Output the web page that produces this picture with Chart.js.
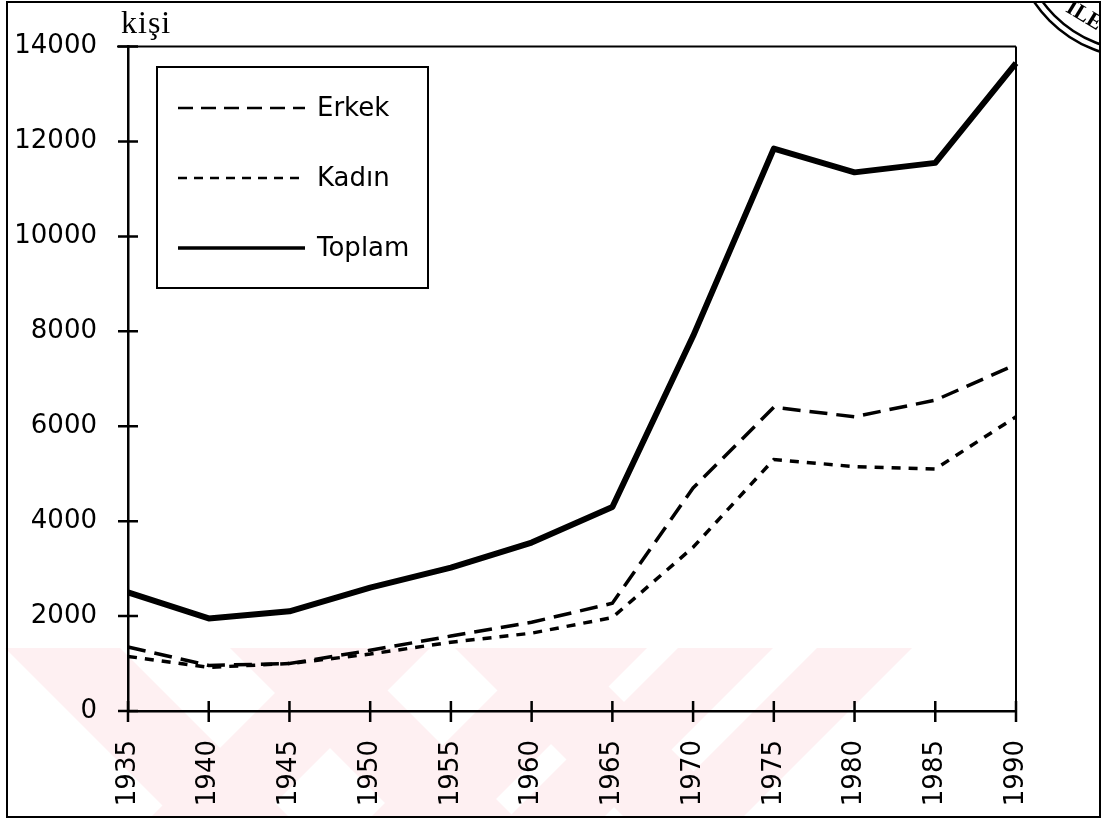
<!DOCTYPE html>
<html><head><meta charset="utf-8">
<script src="https://cdn.jsdelivr.net/npm/chart.js@4/dist/chart.umd.min.js"></script>
<style>html,body{margin:0;padding:0;background:#fff;} canvas{display:block;}</style>
</head><body>
<canvas id="c" width="1102" height="821"></canvas>
<script>
const years = ['1935','1940','1945','1950','1955','1960','1965','1970','1975','1980','1985','1990'];
const erkek  = [1350, 960, 1000, 1280, 1580, 1870, 2270, 4700, 6400, 6200, 6550, 7300];
const kadin  = [1150, 920, 1000, 1200, 1450, 1640, 1970, 3450, 5300, 5150, 5100, 6200];
const toplam = [2500, 1950, 2100, 2600, 3020, 3550, 4300, 7900, 11850, 11350, 11550, 13650];
const yMin = 0, yMax = 14000, yStep = 2000;
const seriesNames = ['Erkek', 'Kadın', 'Toplam'];
const yUnit = 'kişi';

const decor = {
  id: 'decor',
  beforeDraw(chart) {
    const ctx = chart.ctx;
    ctx.save();
    ctx.fillStyle = '#fff';
    ctx.fillRect(0, 0, chart.width, chart.height);
    // faint watermark stripes
    ctx.beginPath();
    ctx.rect(0, 648, 945, 170);
    ctx.clip();
    ctx.fillStyle = '#fef0f2';
    const h = 173;
    [[5,120],[230,345],[455,570]].forEach(([a,b]) => {
      ctx.beginPath();
      ctx.moveTo(a,648); ctx.lineTo(b,648); ctx.lineTo(b+h,648+h); ctx.lineTo(a+h,648+h); ctx.closePath(); ctx.fill();
    });
    [[540,647],[678,773],[817,912],[320,430]].forEach(([a,b]) => {
      ctx.beginPath();
      ctx.moveTo(a,648); ctx.lineTo(b,648); ctx.lineTo(b-h,648+h); ctx.lineTo(a-h,648+h); ctx.closePath(); ctx.fill();
    });
    ctx.restore();
  },
  afterDraw(chart) {
    const ctx = chart.ctx;
    const xs = chart.scales.x, ys = chart.scales.y;
    const a = chart.chartArea;
    ctx.save();
    ctx.strokeStyle = '#000';
    ctx.fillStyle = '#000';
    ctx.lineWidth = 2;
    // outer frame
    ctx.strokeRect(7, 2, 1093, 815);
    // plot top and right borders
    ctx.beginPath();
    ctx.moveTo(a.left - 11, a.top); ctx.lineTo(a.right, a.top);
    ctx.moveTo(a.right, a.top); ctx.lineTo(a.right, a.bottom + 11);
    ctx.stroke();
    // crossing tick marks
    ctx.lineWidth = 2.5;
    ctx.beginPath();
    ys.ticks.forEach(t => {
      const py = ys.getPixelForValue(t.value);
      ctx.moveTo(a.left - 10, py); ctx.lineTo(a.left + 10, py);
    });
    xs.ticks.forEach((t, i) => {
      const px = xs.getPixelForValue(i);
      ctx.moveTo(px, a.bottom - 10); ctx.lineTo(px, a.bottom + 11);
    });
    ctx.stroke();
    // unit label
    ctx.font = '32px "Liberation Serif"';
    ctx.textAlign = 'left';
    ctx.textBaseline = 'alphabetic';
    if ('letterSpacing' in ctx) ctx.letterSpacing = '1px';
    ctx.fillText(yUnit, 121, 33);
    if ('letterSpacing' in ctx) ctx.letterSpacing = '0px';
    // legend box
    ctx.lineWidth = 2;
    ctx.strokeRect(157, 67, 271, 221);
    const rows = [108, 178, 248];
    chart.data.datasets.forEach((ds, i) => {
      const y = rows[i];
      ctx.beginPath();
      ctx.setLineDash(ds.legendDash || []);
      ctx.lineWidth = ds.legendWidth;
      ctx.moveTo(178, y); ctx.lineTo(305, y);
      ctx.stroke();
      ctx.setLineDash([]);
      ctx.font = '26px "DejaVu Sans"';
      ctx.textBaseline = 'middle';
      ctx.fillText(ds.label, 317, y + 1);
    });
    // stamp in the corner
    ctx.beginPath();
    ctx.rect(7, 2, 1093, 815);
    ctx.clip();
    ctx.lineWidth = 2.5;
    ctx.beginPath(); ctx.arc(1140, -70, 128, 0, Math.PI * 2); ctx.stroke();
    ctx.beginPath(); ctx.arc(1140, -70, 121, 0, Math.PI * 2); ctx.stroke();
    ctx.translate(1084, 16);
    ctx.rotate(0.55);
    ctx.font = 'bold 22px "Liberation Serif"';
    ctx.textAlign = 'center';
    ctx.fillText('ILE', 0, 0);
    ctx.restore();
  }
};

new Chart(document.getElementById('c'), {
  type: 'line',
  data: {
    labels: years,
    datasets: [
      { label: seriesNames[0], data: erkek, borderColor: '#000', borderWidth: 3.5, borderDash: [18, 9], pointRadius: 0, tension: 0, legendDash: [15, 8], legendWidth: 2.5 },
      { label: seriesNames[1], data: kadin, borderColor: '#000', borderWidth: 3.5, borderDash: [9, 8], pointRadius: 0, tension: 0, legendDash: [9, 7], legendWidth: 2.5 },
      { label: seriesNames[2], data: toplam, borderColor: '#000', borderWidth: 6, pointRadius: 0, tension: 0, legendDash: [], legendWidth: 3.5, borderJoinStyle: 'round' }
    ]
  },
  options: {
    responsive: false,
    animation: false,
    devicePixelRatio: 1,
    layout: { padding: { top: 43, right: 86, left: 0, bottom: 0 } },
    plugins: { legend: { display: false }, tooltip: { enabled: false } },
    scales: {
      x: {
        offset: false,
        grid: { display: false, drawTicks: false },
        border: { display: true, color: '#000', width: 2.5 },
        ticks: { color: '#000', font: { family: 'DejaVu Sans', size: 26 }, minRotation: 90, maxRotation: 90, padding: 29, autoSkip: false },
        afterFit(s) { s.height = 110; }
      },
      y: {
        min: yMin, max: yMax,
        grid: { display: false, drawTicks: false },
        border: { display: true, color: '#000', width: 2.5 },
        ticks: { stepSize: yStep, color: '#000', font: { family: 'DejaVu Sans', size: 26 }, padding: 31,
                 callback: v => String(v) },
        afterFit(s) { s.width = 128; }
      }
    }
  },
  plugins: [decor]
});
</script>
</body></html>
